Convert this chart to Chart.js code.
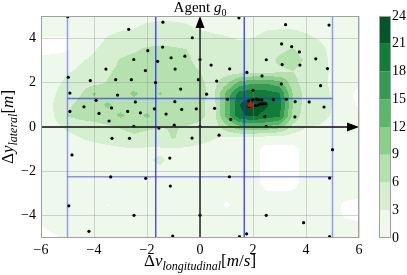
<!DOCTYPE html>
<html>
<head>
<meta charset="utf-8">
<script src="https://cdn.jsdelivr.net/npm/chart.js@4.4.0/dist/chart.umd.min.js"></script>
<style>
  html, body { margin: 0; padding: 0; background: #fff; }
</style>
</head>
<body>
<canvas id="myChart" width="407" height="275"></canvas>
<script>
// axes
var xRange = [-6, 6];
var yRange = [-5, 5];
var xTicks = [-6, -4, -2, 0, 2, 4, 6];
var yTicks = [-4, -2, 0, 2, 4];

// contour levels and colours (Greens)
var levels = [0, 3, 6, 9, 12, 15, 18, 21, 24];
var bandColors = ['#eef9eb', '#d6efd0', '#b4e1ae', '#8bcf89', '#5bb86a', '#329b51', '#127c39', '#005924'];

// density grid, rows from top (y=5) to bottom (y=-5)
var gridX = [-6, -5.5, -5, -4.5, -4, -3.5, -3, -2.5, -2, -1.5, -1, -0.5, 0, 0.5, 1, 1.5, 2, 2.5, 3, 3.5, 4, 4.5, 5, 5.5, 6];
var gridY = [5, 4.5, 4, 3.5, 3, 2.5, 2, 1.5, 1, 0.5, 0, -0.5, -1, -1.5, -2, -2.5, -3, -3.5, -4, -4.5, -5];
var density = [
  [1, 1, 1.2, 1.5, 1.5, 1.8, 2, 2, 2.2, 2.5, 2.5, 2.5, 2.2, 2, 2, 2, 2, 2, 1.8, 1.8, 1.5, 1.5, 1.2, 1, 1],
  [0.8, 0.8, 1, 1.2, 1.5, 2, 2.5, 2.8, 3.5, 3.6, 3.5, 3.2, 2.8, 2.5, 2.2, 2.2, 2.5, 2.8, 2.8, 2.8, 2.5, 2.2, 1.5, 1.2, 1],
  [-0.1, -0.1, -0.1, 1.2, 2, 3.2, 3.8, 4, 4.2, 4.5, 4.2, 4, 3.6, 3.4, 3.2, 2.8, 3, 3.4, 3.8, 3.8, 3.4, 2.8, 1.8, 1.2, 1],
  [-1, -1, -0.3, 1.5, 2.8, 3.8, 4.8, 5.5, 6.5, 6.8, 6.5, 6, 4.8, 4.2, 4, 3.8, 4, 4.6, 5.5, 6.2, 5, 3.8, 2.2, 1.2, 1],
  [1, 1.2, 2, 2.8, 3.5, 4.5, 6.3, 7, 7.2, 7.2, 7, 6.5, 5.2, 4.6, 4.4, 4.2, 4.4, 5, 6.5, 6.8, 5.8, 4.2, 2.4, 1.4, 1],
  [1.2, 1.8, 2.8, 3.4, 4.2, 5.5, 6.8, 7.5, 7.5, 7.4, 7.2, 6.8, 6, 4.8, 4.5, 4.5, 4.6, 4.8, 5.5, 6, 5, 4, 2.6, 1.5, 1],
  [1.4, 2.4, 3.5, 4.2, 5, 6.2, 7.2, 7.8, 7.6, 7.8, 7.5, 7.2, 6.5, 5, 8, 13, 14.5, 14.5, 13, 7, 4.6, 3.8, 2.5, 1.5, 0.8],
  [1.5, 2.8, 4.5, 5.8, 9.5, 7.2, 7.8, 9.5, 8, 9.2, 7.8, 7.5, 7, 5, 13, 19.5, 20, 19.5, 18.5, 9, 4.8, 4, 2.8, 1, -1],
  [1.6, 3.2, 5.5, 6.8, 7.5, 9.5, 8, 7.8, 7.5, 8, 8.5, 7.5, 6.8, 4.5, 13, 21, 23, 21.5, 19, 9, 4.5, 4, 3, 1.2, -0.3],
  [1.5, 3, 6.2, 7, 7.5, 7.8, 9.5, 8, 9.5, 7.8, 7.5, 8, 7, 4.5, 13, 20.5, 21.5, 20, 18.5, 8.5, 4, 3.8, 2.8, 1.5, 1],
  [1.2, 2.2, 3.5, 4.2, 4.8, 5.5, 6.2, 6.8, 6.5, 6, 6.2, 5.8, 5, 4, 8, 11, 12, 11.5, 10, 5, 3, 2.8, 2, 1.2, 1],
  [1, 1.5, 2.2, 3, 3.6, 4.2, 5, 5.5, 5, 5.2, 6.2, 5, 4, 3.2, 2.5, 2.5, 2, 1.5, 1.5, 1.5, 1.5, 1.5, 1.5, 1.2, 1],
  [1, 1.2, 1.5, 1.8, 2, 2.2, 2.5, 2.8, 2.6, 2.6, 2.8, 2.5, 2.2, 2, 1.8, 1.6, 1.2, -1, -1, -1, 1.2, 1.5, 1.4, 1.2, 1],
  [1, 1.2, 1.4, 1.6, 1.8, 2, 2.2, 2.5, 2.8, 3.3, 2.5, 2.2, 2, 1.8, 1.6, 1.5, 1.2, -1, -1, -1, 1.2, 1.4, 1.3, 1.2, 1],
  [1, 1.2, 1.4, 1.5, 1.6, 1.8, 2, 2.2, 2.4, 2.6, 2.2, 2, 1.8, 1.6, 1.5, 1.4, 1.2, -1, -1, -1, 1.2, 1.3, 1.3, 1.2, 1],
  [1, 1.1, 1.3, 1.4, 1.5, 1.6, 1.8, 1.9, 2, 2, 1.9, 1.8, 1.6, 1.5, 1.4, 1.3, 1.2, -1, -1, -1, 1.2, 1.3, 1.3, 1.2, 1],
  [1, 1.1, 1.2, 1.3, 1.4, 1.5, 1.6, 1.7, 1.8, 1.8, 1.7, 1.6, 1.5, 1.4, 1.3, 1.2, 1.1, 0.3, 0.3, 0.4, 1.2, 1.2, 1.2, 1, 0.8],
  [1, 1.1, 1.2, 1.3, 1.4, -0.2, 1.5, 1.6, 1.7, 1.7, 1.6, 1.5, 1.4, 1.3, -0.5, 1.2, 1.2, 1.2, 1.2, 1.2, 1.2, 1.1, 0.8, -0.5, -1],
  [1, 1.1, 1.2, 1.3, 1.4, 1.5, 1.5, 1.6, 1.6, 1.6, 1.5, 1.5, 1.4, 1.3, 1.2, 1.2, 1.2, 1.2, 1.2, 1.2, 1.2, 1.1, 0.8, -0.3, -0.8],
  [-0.3, 0.8, 1.1, 1.2, 1.3, 1.4, 1.4, 1.5, 1.5, 1.5, 1.4, 1.4, 1.3, 1.3, 1.2, 1.5, 1.3, 1.2, 1.2, 1.2, 1.1, 1, 1, 0.9, 0.8],
  [-1, -0.5, 0.8, 1, 1.2, 1.3, 1.3, 1.4, 1.4, 1.4, 1.3, 1.3, 1.2, 1.2, 1.2, 1.3, 1.2, 1.2, 1.1, 1.1, 1, 1, 0.9, 0.8, 0.8]
];

// sampled points
var pointsX = [-4.99, -2.69, -1.40, 1.47, -0.29, 3.23, 4.87, -1.97, -1.41, 3.08, 3.46, 3.75, -2.50, -1.09, -0.57, -1.60, 0.00, 2.50, 4.37,
  -3.55, -2.06, -0.94, 0.42, 1.12, 1.77, 3.10, 3.77, 4.81, -4.97, -4.14, -3.18, -2.59, -1.68, -0.06, 0.63, 2.34, 3.07, 4.55,
  -0.73, 2.00, -4.91, -3.11, 0.25, -3.92, -2.44, -0.95, 1.04, 2.77, 3.26, 3.59, 4.12,
  1.84, 2.00, 2.13, 2.20, 2.33, 1.83, 2.09, 2.20, 2.29, 2.38, 2.47,
  4.68, -4.38, -3.34, -1.72, -0.69, -0.14, 0.55, -4.91, -3.81, -2.73, -2.25, -1.28, 2.45, 3.58, 1.16, -3.43, -2.50, -0.97, 0.00, 2.50, -1.55,
  -3.32, -2.66, -0.30, 0.72, 5.00, -4.83, -1.14, -3.37, -2.05, 1.11, 4.89, -1.12, -4.95, -2.49, 0.00, 2.50, 3.91, -4.19, -1.03, 1.49, 1.76, 4.89];
var pointsY = [4.97, 4.40, 4.72, 4.92, 4.02, 4.61, 4.59, 3.44, 3.60, 3.74, 3.62, 3.38, 3.04, 3.12, 3.19, 2.96, 3.04, 3.03, 3.07,
  2.61, 2.54, 2.61, 2.79, 2.62, 2.46, 2.81, 2.79, 2.63, 2.24, 2.09, 2.13, 2.13, 2.00, 2.13, 2.07, 2.30, 1.94, 1.86,
  1.71, 1.65, 1.53, 1.44, 1.48, 1.20, 1.13, 1.14, 1.25, 1.23, 1.25, 1.14, 1.13,
  1.18, 1.23, 1.26, 1.23, 1.23, 0.93, 0.96, 0.99, 1.04, 1.04, 1.05,
  0.90, 0.91, 0.86, 0.82, 0.79, 0.82, 0.84, 0.70, 0.61, 0.70, 0.64, 0.58, 0.47, 0.46, 0.34, 0.27, 0.03, 0.08, 0.02, 0.03, -0.05,
  -0.51, -0.51, -0.50, -0.37, -1.02, -1.26, -1.40, -2.25, -2.31, -2.24, -2.30, -2.66, -3.55, -3.98, -3.97, -3.98, -4.31, -4.70, -4.91, -4.94, -4.81, -4.94];

// agent position
var agentX = [1.9];
var agentY = [1.0];

// partition lines
var blueX = [-5, -1.67, 1.67, 5];
var blueY = [1.28, -2.24];
var blueAlphaX = [0.45, 0.8, 0.8, 0.45];
var blueAlphaY = [0.65, 0.5];

var serif = '"Liberation Serif", "DejaVu Serif", serif';

function hexRgb(h) {
  return [parseInt(h.substr(1, 2), 16), parseInt(h.substr(3, 2), 16), parseInt(h.substr(5, 2), 16)];
}

function locate(arr, v) {
  for (var i = 0; i < arr.length - 1; i++) {
    var a = arr[i], b = arr[i + 1];
    if ((v - a) * (v - b) <= 0) return { i: i, f: (v - a) / (b - a) };
  }
  return { i: 0, f: 0 };
}

function bandOf(v) {
  if (v < levels[0]) return -1;
  for (var k = levels.length - 2; k >= 0; k--) {
    if (v >= levels[k]) return Math.min(k, bandColors.length - 1);
  }
  return 0;
}

var contourPlugin = {
  id: 'contour',
  beforeDraw: function(chart) {
    var ctx = chart.ctx, a = chart.chartArea;
    var xs = chart.scales.x, ys = chart.scales.y;
    ctx.save();
    ctx.fillStyle = '#fff';
    ctx.fillRect(0, 0, chart.width, chart.height);
    ctx.restore();

    var w = Math.round(a.right - a.left), h = Math.round(a.bottom - a.top);
    var off = document.createElement('canvas');
    off.width = w; off.height = h;
    var octx = off.getContext('2d');
    var img = octx.createImageData(w, h);
    var rgb = bandColors.map(hexRgb);
    var cols = [], rows = [];
    for (var i = 0; i < w; i++) cols.push(locate(gridX, xs.getValueForPixel(a.left + i + 0.5)));
    for (var j = 0; j < h; j++) rows.push(locate(gridY, ys.getValueForPixel(a.top + j + 0.5)));
    for (var j = 0; j < h; j++) {
      var r = rows[j];
      var r0 = density[r.i], r1 = density[r.i + 1];
      for (var i = 0; i < w; i++) {
        var c = cols[i];
        var top = r0[c.i] * (1 - c.f) + r0[c.i + 1] * c.f;
        var bot = r1[c.i] * (1 - c.f) + r1[c.i + 1] * c.f;
        var v = top * (1 - r.f) + bot * r.f;
        var b = bandOf(v);
        var k = (j * w + i) * 4;
        var col = b < 0 ? [255, 255, 255] : rgb[b];
        img.data[k] = col[0]; img.data[k + 1] = col[1]; img.data[k + 2] = col[2]; img.data[k + 3] = 255;
      }
    }
    octx.putImageData(img, 0, 0);
    ctx.drawImage(off, a.left, a.top);
  }
};

function fontFor(p) {
  return (p.it ? 'italic ' : '') + p.size + 'px ' + serif;
}

function drawParts(ctx, parts, x, y) {
  var total = 0;
  parts.forEach(function(p) {
    ctx.font = fontFor(p);
    p.w = ctx.measureText(p.t).width;
    total += p.w;
  });
  var cx = x - total / 2;
  parts.forEach(function(p) {
    ctx.font = fontFor(p);
    ctx.fillText(p.t, cx, y + (p.sub ? 4 : 0));
    cx += p.w;
  });
}

function arrow(ctx, x1, y1, x2, y2) {
  var ang = Math.atan2(y2 - y1, x2 - x1), len = 12, hw = 4.5;
  var bx = x2 - len * Math.cos(ang), by = y2 - len * Math.sin(ang);
  ctx.beginPath();
  ctx.moveTo(x1, y1);
  ctx.lineTo(bx, by);
  ctx.strokeStyle = 'rgba(40,40,40,0.85)';
  ctx.lineWidth = 1.8;
  ctx.stroke();
  ctx.beginPath();
  ctx.moveTo(x2, y2);
  ctx.lineTo(bx - hw * Math.sin(ang), by + hw * Math.cos(ang));
  ctx.lineTo(bx + hw * Math.sin(ang), by - hw * Math.cos(ang));
  ctx.closePath();
  ctx.fillStyle = '#000';
  ctx.fill();
}

var overlayPlugin = {
  id: 'overlay',
  afterDatasetsDraw: function(chart) {
    var ctx = chart.ctx, a = chart.chartArea;
    var xs = chart.scales.x, ys = chart.scales.y;
    ctx.save();
    // axis arrows through the origin
    arrow(ctx, xs.getPixelForValue(xRange[0]), ys.getPixelForValue(0), xs.getPixelForValue(xRange[1]), ys.getPixelForValue(0));
    arrow(ctx, xs.getPixelForValue(0), ys.getPixelForValue(yRange[0]), xs.getPixelForValue(0), ys.getPixelForValue(yRange[1]));
    // frame
    ctx.strokeStyle = '#a0a0a0';
    ctx.lineWidth = 1;
    ctx.strokeRect(a.left + 0.5, a.top + 0.5, a.right - a.left - 1, a.bottom - a.top - 1);
    ctx.restore();
  },
  afterDraw: function(chart) {
    var ctx = chart.ctx, a = chart.chartArea;
    ctx.save();
    // colorbar
    var cx = a.right + 20, cw = 12;
    var lo = levels[0], hi = levels[levels.length - 1];
    function cy(v) { return a.bottom - (v - lo) / (hi - lo) * (a.bottom - a.top); }
    for (var i = 0; i < bandColors.length; i++) {
      ctx.fillStyle = bandColors[i];
      ctx.fillRect(cx, cy(levels[i + 1]), cw, cy(levels[i]) - cy(levels[i + 1]));
    }
    ctx.strokeStyle = '#a0a0a0';
    ctx.lineWidth = 1;
    ctx.strokeRect(cx + 0.5, a.top + 0.5, cw - 1, a.bottom - a.top - 1);
    ctx.fillStyle = '#000';
    ctx.font = '14px ' + serif;
    ctx.textAlign = 'left';
    ctx.textBaseline = 'middle';
    levels.forEach(function(v) {
      ctx.fillText(String(v), cx + cw + 1, cy(v));
    });

    // title and axis labels
    ctx.textAlign = 'left';
    ctx.textBaseline = 'alphabetic';
    var mid = (a.left + a.right) / 2;
    drawParts(ctx, [
      { t: 'Agent ', size: 15 }, { t: 'g', it: true, size: 15 }, { t: '0', sub: true, size: 10 }
    ], mid, 12);
    drawParts(ctx, [
      { t: '\u0394', size: 17 }, { t: 'v', it: true, size: 17 }, { t: 'longitudinal', it: true, sub: true, size: 12 },
      { t: '[', size: 17 }, { t: 'm', it: true, size: 17 }, { t: '/', size: 17 }, { t: 's', it: true, size: 17 }, { t: ']', size: 17 }
    ], mid, 266);
    ctx.translate(13, (a.top + a.bottom) / 2);
    ctx.rotate(-Math.PI / 2);
    drawParts(ctx, [
      { t: '\u0394', size: 17 }, { t: 'y', it: true, size: 17 }, { t: 'lateral', it: true, sub: true, size: 12 },
      { t: '[', size: 17 }, { t: 'm', it: true, size: 17 }, { t: ']', size: 17 }
    ], 0, 0);
    ctx.restore();
  }
};

function tickText(v) {
  return String(v).replace('-', '\u2212');
}

var datasets = [];
datasets.push({
  label: 'agent',
  data: agentX.map(function(x, i) { return { x: x, y: agentY[i] }; }),
  pointStyle: 'triangle',
  pointRadius: 4,
  backgroundColor: '#ff0000',
  borderWidth: 0,
  order: 0
});
datasets.push({
  label: 'samples',
  data: pointsX.map(function(x, i) { return { x: x, y: pointsY[i] }; }),
  pointRadius: 1.6,
  backgroundColor: '#000',
  borderWidth: 0,
  order: 1
});
blueX.forEach(function(bx, i) {
  datasets.push({
    type: 'line',
    data: [{ x: bx, y: yRange[0] }, { x: bx, y: yRange[1] }],
    borderColor: 'rgba(40,40,255,' + blueAlphaX[i] + ')',
    borderWidth: 1.5,
    pointRadius: 0,
    order: 5
  });
});
blueY.forEach(function(by, i) {
  datasets.push({
    type: 'line',
    data: [{ x: blueX[0], y: by }, { x: blueX[blueX.length - 1], y: by }],
    borderColor: 'rgba(40,40,255,' + blueAlphaY[i] + ')',
    borderWidth: 1.5,
    pointRadius: 0,
    order: 5
  });
});

var canvas = document.getElementById('myChart');
var chart = new Chart(canvas.getContext('2d'), {
  type: 'scatter',
  data: { datasets: datasets },
  options: {
    responsive: false,
    animation: false,
    events: [],
    layout: { padding: { top: 16, right: 48, bottom: 0, left: 0 } },
    plugins: { legend: { display: false }, tooltip: { enabled: false } },
    scales: {
      x: {
        type: 'linear',
        min: xRange[0], max: xRange[1],
        afterBuildTicks: function(s) { s.ticks = xTicks.map(function(v) { return { value: v }; }); },
        afterFit: function(s) { s.height = 37; },
        grid: { color: 'rgba(140,140,140,0.35)', drawTicks: false },
        border: { display: false },
        ticks: { padding: 4, color: '#000', font: { family: serif, size: 14 }, maxRotation: 0, callback: tickText }
      },
      y: {
        type: 'linear',
        min: yRange[0], max: yRange[1],
        afterBuildTicks: function(s) { s.ticks = yTicks.map(function(v) { return { value: v }; }); },
        afterFit: function(s) { s.width = 41; },
        grid: { color: 'rgba(140,140,140,0.35)', drawTicks: false },
        border: { display: false },
        ticks: { padding: 5, color: '#000', font: { family: serif, size: 14 }, callback: tickText }
      }
    }
  },
  plugins: [contourPlugin, overlayPlugin]
});
</script>
</body>
</html>
